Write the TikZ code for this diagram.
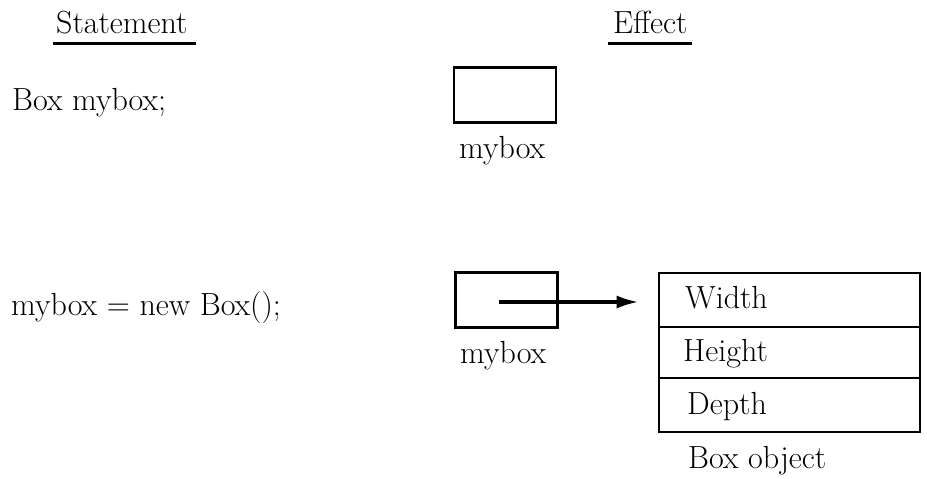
\documentclass[tikz,border=0pt]{standalone}
\usetikzlibrary{arrows.meta}
\begin{document}
\begin{tikzpicture}[x=1pt,y=-1pt,
  txt/.style={anchor=base west,inner sep=0pt,font=\fontsize{32}{38}\selectfont},
  varbox/.style={draw,line width=2.6pt,minimum width=102pt,minimum height=55pt,inner sep=0pt},
  cell/.style={draw,line width=2.6pt,minimum width=261pt,inner sep=0pt},
  uline/.style={line width=3pt},
  ptr/.style={line width=3.4pt,-{Latex[length=22pt,width=13pt]}}]
\useasboundingbox (0,0) rectangle (927,479);
% headings
\node[txt] (st) at (56,34) {Statement};
\node[txt] (ef) at (613,34) {Effect};
\draw[uline] (53,43) -- (196,43);
\draw[uline] (608,43) -- (692,43);
% statements
\node[txt] (s1) at (12,110) {Box mybox;};
\node[txt] (s2) at (11,315) {mybox = new Box();};
% first effect
\node[varbox] (b1) at (505,95) {};
\node[txt] (l1) at (459,158) {mybox};
% second effect
\node[varbox] (b2) at (506.5,300) {};
\node[txt] (l2) at (460,363) {mybox};
\node[cell,minimum height=54pt] (cw) at (789.5,300) {};
\node[cell,minimum height=51pt] (ch) at (789.5,352.5) {};
\node[cell,minimum height=54pt] (cd) at (789.5,405) {};
\node[txt] (tw) at (685,308) {Width};
\node[txt] (th) at (683,361) {Height};
\node[txt] (td) at (687,414) {Depth};
\node[txt] (tb) at (688,468) {Box object};
\coordinate (p) at (499,302);
\draw[ptr] (p) -- (cw.west |- p) [shorten >=19pt];
\end{tikzpicture}
\end{document}
